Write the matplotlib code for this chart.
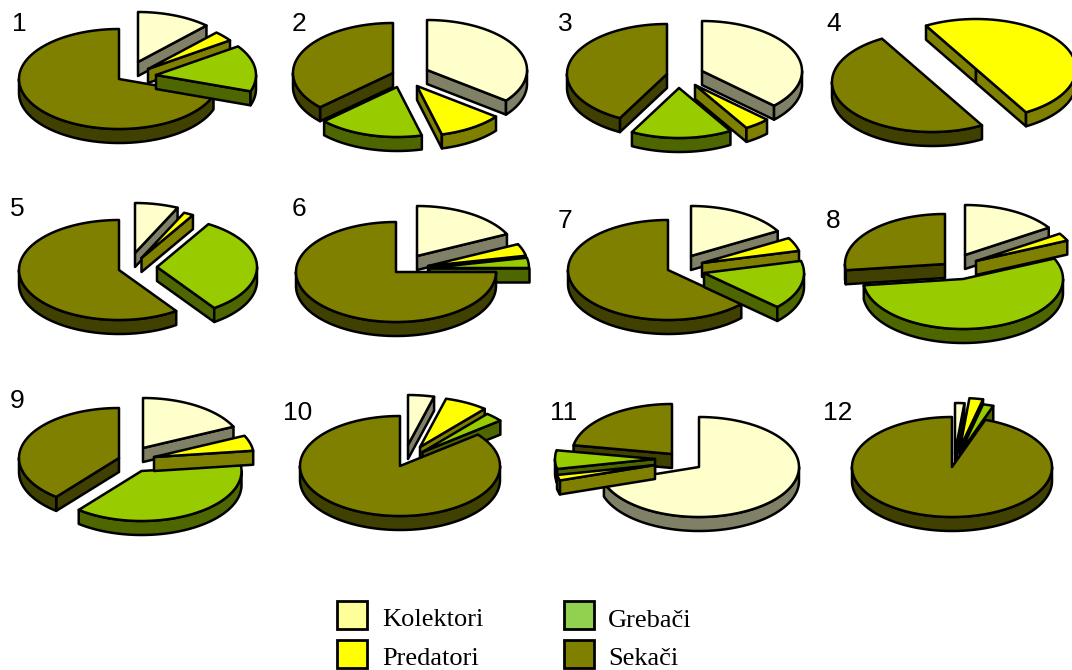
# 3D exploded pies, one per site, with a shared legend
import numpy as np
import matplotlib.pyplot as plt
from matplotlib.patches import Polygon, Rectangle

site_labels = ["1", "2", "3", "4", "5", "6", "7", "8", "9", "10", "11", "12"]
group_names = ["Kolektori", "Predatori", "Grebači", "Sekači"]

# percent share of each group per site
kolektori = [12.0, 35.5, 37.2, 0.0, 7.0, 17.8, 16.7, 15.8, 18.0, 4.2, 70.0, 1.5]
predatori = [3.3, 10.5, 4.2, 50.0, 1.6, 3.9, 4.4, 2.5, 5.0, 7.0, 1.8, 2.2]
grebaci = [15.0, 17.0, 16.4, 0.0, 31.7, 3.3, 15.8, 54.7, 37.8, 3.0, 6.0, 1.7]
sekaci = [69.7, 37.0, 42.2, 50.0, 59.7, 75.0, 63.1, 27.0, 39.2, 85.8, 22.2, 94.6]

# first slice angle, clockwise from the top
first_angle = [0, 0, 0, 330, 0, 0, 0, 0, 0, 0, 0, 0]

# layout: pie anchors and how far each slice was pulled out (px)
col_x = [120, 393, 667, 945]
row_y = [80, 270, 460]
label_xy = [(12, 31), (292, 31), (558, 31), (826, 31),
            (10, 216), (292, 216), (558, 228), (826, 228),
            (10, 408), (283, 420), (550, 420), (823, 420)]
slice_shift = [
    [(18, -18), (28, -11), (36, -5), (-1, -1)],
    [(34, -10), (24, 6), (4, 7), (0, -7)],
    [(35, -9), (28, 5), (12, 8), (0, -6)],
    [(0, 0), (31, -11), (0, 0), (-13, 2)],
    [(15, -17), (21.5, -12), (37, -3), (-1, 0)],
    [(24, -14), (35, -4), (36, -2), (3, 2)],
    [(24, -14), (35, -7), (37, 3), (1, 0)],
    [(20, -15), (31, -9), (18, 9), (0, -6)],
    [(23, -12), (34, -3), (21.5, 11), (-1, -2)],
    [(15, -15), (27, -13), (29.5, -8), (7, 6)],
    [(32, 7), (-12, 5), (-12, -1), (5, -6)],
    [(10, -7), (15, -12), (15, -7), (7, 7)],
]
# painter's order of the slices, 0-3 as in group_names
draw_order = [
    [3, 0, 1, 2], [3, 0, 1, 2], [3, 0, 1, 2], [3, 0, 1, 2],
    [3, 0, 1, 2], [0, 1, 2, 3], [3, 0, 1, 2], [3, 2, 0, 1],
    [3, 2, 0, 1], [0, 1, 2, 3], [0, 3, 2, 1], [0, 1, 2, 3],
]

top_colors = ["#FFFFCC", "#FFFF00", "#99CC00", "#808000"]
side_colors = ["#808066", "#808000", "#4D6600", "#404000"]
legend_colors = ["#FFFF99", "#FFFF00", "#92D050", "#808000"]

RX = 100
RY = 50
DEPTH = 14
LW = 1.8


def rim(x0, y0, t0, t1):
    t = np.radians(np.linspace(t0, t1, max(int(abs(t1 - t0)) + 2, 2)))
    return np.column_stack([x0 + RX * np.sin(t), y0 - RY * np.cos(t)])


def add_poly(ax, pts, color):
    ax.add_patch(Polygon(pts, closed=True, facecolor=color, edgecolor="black",
                         linewidth=LW, joinstyle="round"))


def radial_face(ax, x0, y0, t, color):
    a = np.array([x0, y0])
    b = rim(x0, y0, t, t)[0]
    drop = np.array([0, DEPTH])
    add_poly(ax, [a, b, b + drop, a + drop], color)


def draw_slice(ax, x0, y0, t0, t1, top, side):
    # cut faces, only when they look towards the viewer
    if np.sin(np.radians(t0)) < -1e-6:
        radial_face(ax, x0, y0, t0, side)
    if np.sin(np.radians(t1)) > 1e-6:
        radial_face(ax, x0, y0, t1, side)

    # outer wall, the front half of the ellipse only
    for lo, hi in [(90, 270), (450, 630)]:
        a, b = max(t0, lo), min(t1, hi)
        if b > a:
            edge = rim(x0, y0, a, b)
            add_poly(ax, np.vstack([edge, edge[::-1] + [0, DEPTH]]), side)

    add_poly(ax, np.vstack([[x0, y0], rim(x0, y0, t0, t1)]), top)


fig = plt.figure(figsize=(10.72, 6.7), dpi=100)
ax = fig.add_axes([0, 0, 1, 1])
ax.set_xlim(0, 1072)
ax.set_ylim(670, 0)
ax.axis("off")

shares = np.array([kolektori, predatori, grebaci, sekaci]).T

for i, row in enumerate(shares):
    sweep = row / row.sum() * 360
    starts = first_angle[i] + np.concatenate([[0], np.cumsum(sweep)[:-1]])
    x0 = col_x[i % 4]
    y0 = row_y[i // 4]
    for j in draw_order[i]:
        if sweep[j] == 0:
            continue
        dx, dy = slice_shift[i][j]
        draw_slice(ax, x0 + dx, y0 + dy, starts[j], starts[j] + sweep[j],
                   top_colors[j], side_colors[j])
    ax.text(label_xy[i][0], label_xy[i][1], site_labels[i], fontsize=19,
            family="Liberation Sans", color="black", ha="left", va="baseline")

# legend
legend_xy = [(337, 601), (337, 640), (564, 601), (564, 640)]
legend_text_x = [382, 382, 608, 608]
legend_text_y = [626, 665, 627, 665]
for k, name in enumerate(group_names):
    ax.add_patch(Rectangle(legend_xy[k], 29.5, 28, facecolor=legend_colors[k],
                           edgecolor="black", linewidth=2.0))
    ax.text(legend_text_x[k], legend_text_y[k], name, fontsize=19,
            family="Liberation Serif", color="black", ha="left", va="baseline")

fig.savefig("out.png", dpi=100)
